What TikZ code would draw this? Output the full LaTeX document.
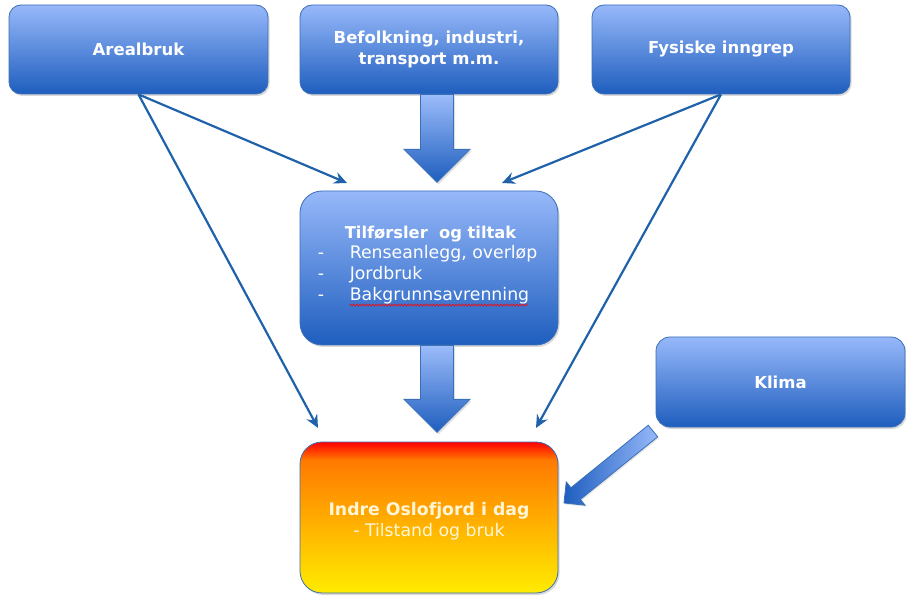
\documentclass[tikz,border=0pt]{standalone}
\usepackage{fontspec}
\setmainfont{DejaVu Sans}
\usetikzlibrary{calc,arrows.meta,shadows,decorations.pathmorphing}
\definecolor{boxtop}{HTML}{97B8FA}
\definecolor{boxbot}{HTML}{1E5EBE}
\definecolor{boxline}{HTML}{3B6FB6}
\definecolor{linec}{HTML}{1F62AA}
\definecolor{fjordtext}{HTML}{FFF6D8}
\definecolor{fjy}{HTML}{FFEC00}
\definecolor{fjm}{HTML}{FFA600}
\definecolor{fjo}{HTML}{FF7A00}
\definecolor{fjr}{HTML}{FF0000}
\pgfdeclareverticalshading{fjordshade}{100bp}{color(0bp)=(fjy); color(25bp)=(fjy); color(52bp)=(fjm); color(69bp)=(fjo); color(75bp)=(fjr); color(100bp)=(fjr)}
\begin{document}
\begin{tikzpicture}[x=1pt,y=-1pt,
  boxfont/.style={font=\fontsize{16.5}{20.5}\selectfont},
  bigfont/.style={font=\fontsize{17.3}{20.7}\selectfont},
  bluebox/.style={draw=boxline, line width=0.8pt, top color=boxtop, bottom color=boxbot,
    text=white, boxfont, align=center, inner sep=0pt,
    drop shadow={shadow xshift=1.5pt, shadow yshift=-2pt, opacity=0.3}},
  fjordbox/.style={draw=boxline, line width=0.8pt, shading=fjordshade,
    text=fjordtext, bigfont, align=center, inner sep=0pt,
    drop shadow={shadow xshift=1.5pt, shadow yshift=-2pt, opacity=0.3}},
  thinarrow/.style={draw=linec, line width=2.2pt, -{Stealth[length=13pt,width=12pt,inset=4.5pt]}},
  blockarrow/.style={draw=boxline, line width=0.8pt, top color=boxtop!95!white, bottom color=boxbot,
    drop shadow={shadow xshift=1.5pt, shadow yshift=-2pt, opacity=0.25}},
  diagarrow/.style={draw=boxline, line width=0.8pt, left color=boxbot, right color=boxtop,
    drop shadow={shadow xshift=1.2pt, shadow yshift=-1.5pt, opacity=0.2}}
]
\useasboundingbox (0,0) rectangle (906,596);

% boxes
\node[bluebox, minimum width=259pt, minimum height=89pt, rounded corners=12pt] (a) at (138.5,49.5) {\bfseries Arealbruk};
\node[bluebox, minimum width=258pt, minimum height=89pt, rounded corners=12pt] (b) at (429,49.5) {\bfseries Befolkning, industri,\\\bfseries transport m.m.};
\node[bluebox, minimum width=258pt, minimum height=89pt, rounded corners=12pt] (f) at (721,49.5) {\bfseries Fysiske inngrep};
\node[bluebox, minimum width=258pt, minimum height=154pt, rounded corners=22pt] (t) at (429,268) {};
\node[bluebox, minimum width=249pt, minimum height=90pt, rounded corners=14pt] (k) at (780.5,382) {\bfseries Klima};
\node[fjordbox, minimum width=258pt, minimum height=151pt, rounded corners=22pt] (i) at (429,517.5)
  {\rule{0pt}{20pt}\bfseries Indre Oslofjord i dag\\- Tilstand og bruk};

% text inside Tilførsler box
\node[text=white, bigfont, align=left, anchor=north west, inner sep=0pt] (tt) at ($(t.north west)+(18,35)$)
  {\hspace*{27pt}{\fontsize{16.3}{20.7}\selectfont\bfseries Tilførsler\ \ og tiltak}\\
   \makebox[32pt][l]{-}Renseanlegg, overløp\\
   \makebox[32pt][l]{-}Jordbruk\\
   \makebox[32pt][l]{-}Bakgrunnsavrenning};
\coordinate (sq1) at ($(tt.south west)+(32,1)$);
\coordinate (sq2) at ($(tt.south west)+(210,1)$);
\draw[red, line width=0.6pt, decorate, decoration={snake, amplitude=1pt, segment length=3.2pt}] (sq1) -- (sq2);

% thin connectors
\coordinate (ta) at (347,183);
\coordinate (tf) at (502,183);
\coordinate (ia) at (318,428);
\coordinate (if) at (536,428);
\draw[thinarrow] (a.south) -- (ta);
\draw[thinarrow] (a.south) -- (ia);
\draw[thinarrow] (f.south) -- (tf);
\draw[thinarrow] (f.south) -- (if);

% block arrows down
\coordinate (b1) at ($(b.south)+(8,0)$);
\coordinate (b2) at ($(t.south)+(8,0)$);
\path[blockarrow] ($(b1)+(-16.5,0)$) -- ($(b1)+(16.5,0)$) -- ($(b1)+(16.5,55)$) -- ($(b1)+(33,55)$)
  -- ($(b1)+(0,88)$) -- ($(b1)+(-33,55)$) -- ($(b1)+(-16.5,55)$) -- cycle;
\path[blockarrow] ($(b2)+(-16.5,0)$) -- ($(b2)+(16.5,0)$) -- ($(b2)+(16.5,54)$) -- ($(b2)+(33,54)$)
  -- ($(b2)+(0,87)$) -- ($(b2)+(-33,54)$) -- ($(b2)+(-16.5,54)$) -- cycle;

% Klima arrow (diagonal)
\coordinate (kt) at (653,431);
\coordinate (kp) at (564,503);
\path[diagarrow] let \p1=(kt), \p2=(kp), \n1={atan2(\y2-\y1,\x2-\x1)}, \n2={veclen(\x2-\x1,\y2-\y1)} in
  [shift={(\x1,\y1)}, rotate=\n1]
  (0pt,-7.5pt) -- ({\n2-15pt},-7.5pt) -- ({\n2-15pt},-15pt) -- (\n2,0pt) -- ({\n2-15pt},15pt)
  -- ({\n2-15pt},7.5pt) -- (0pt,7.5pt) -- cycle;
\end{tikzpicture}
\end{document}
